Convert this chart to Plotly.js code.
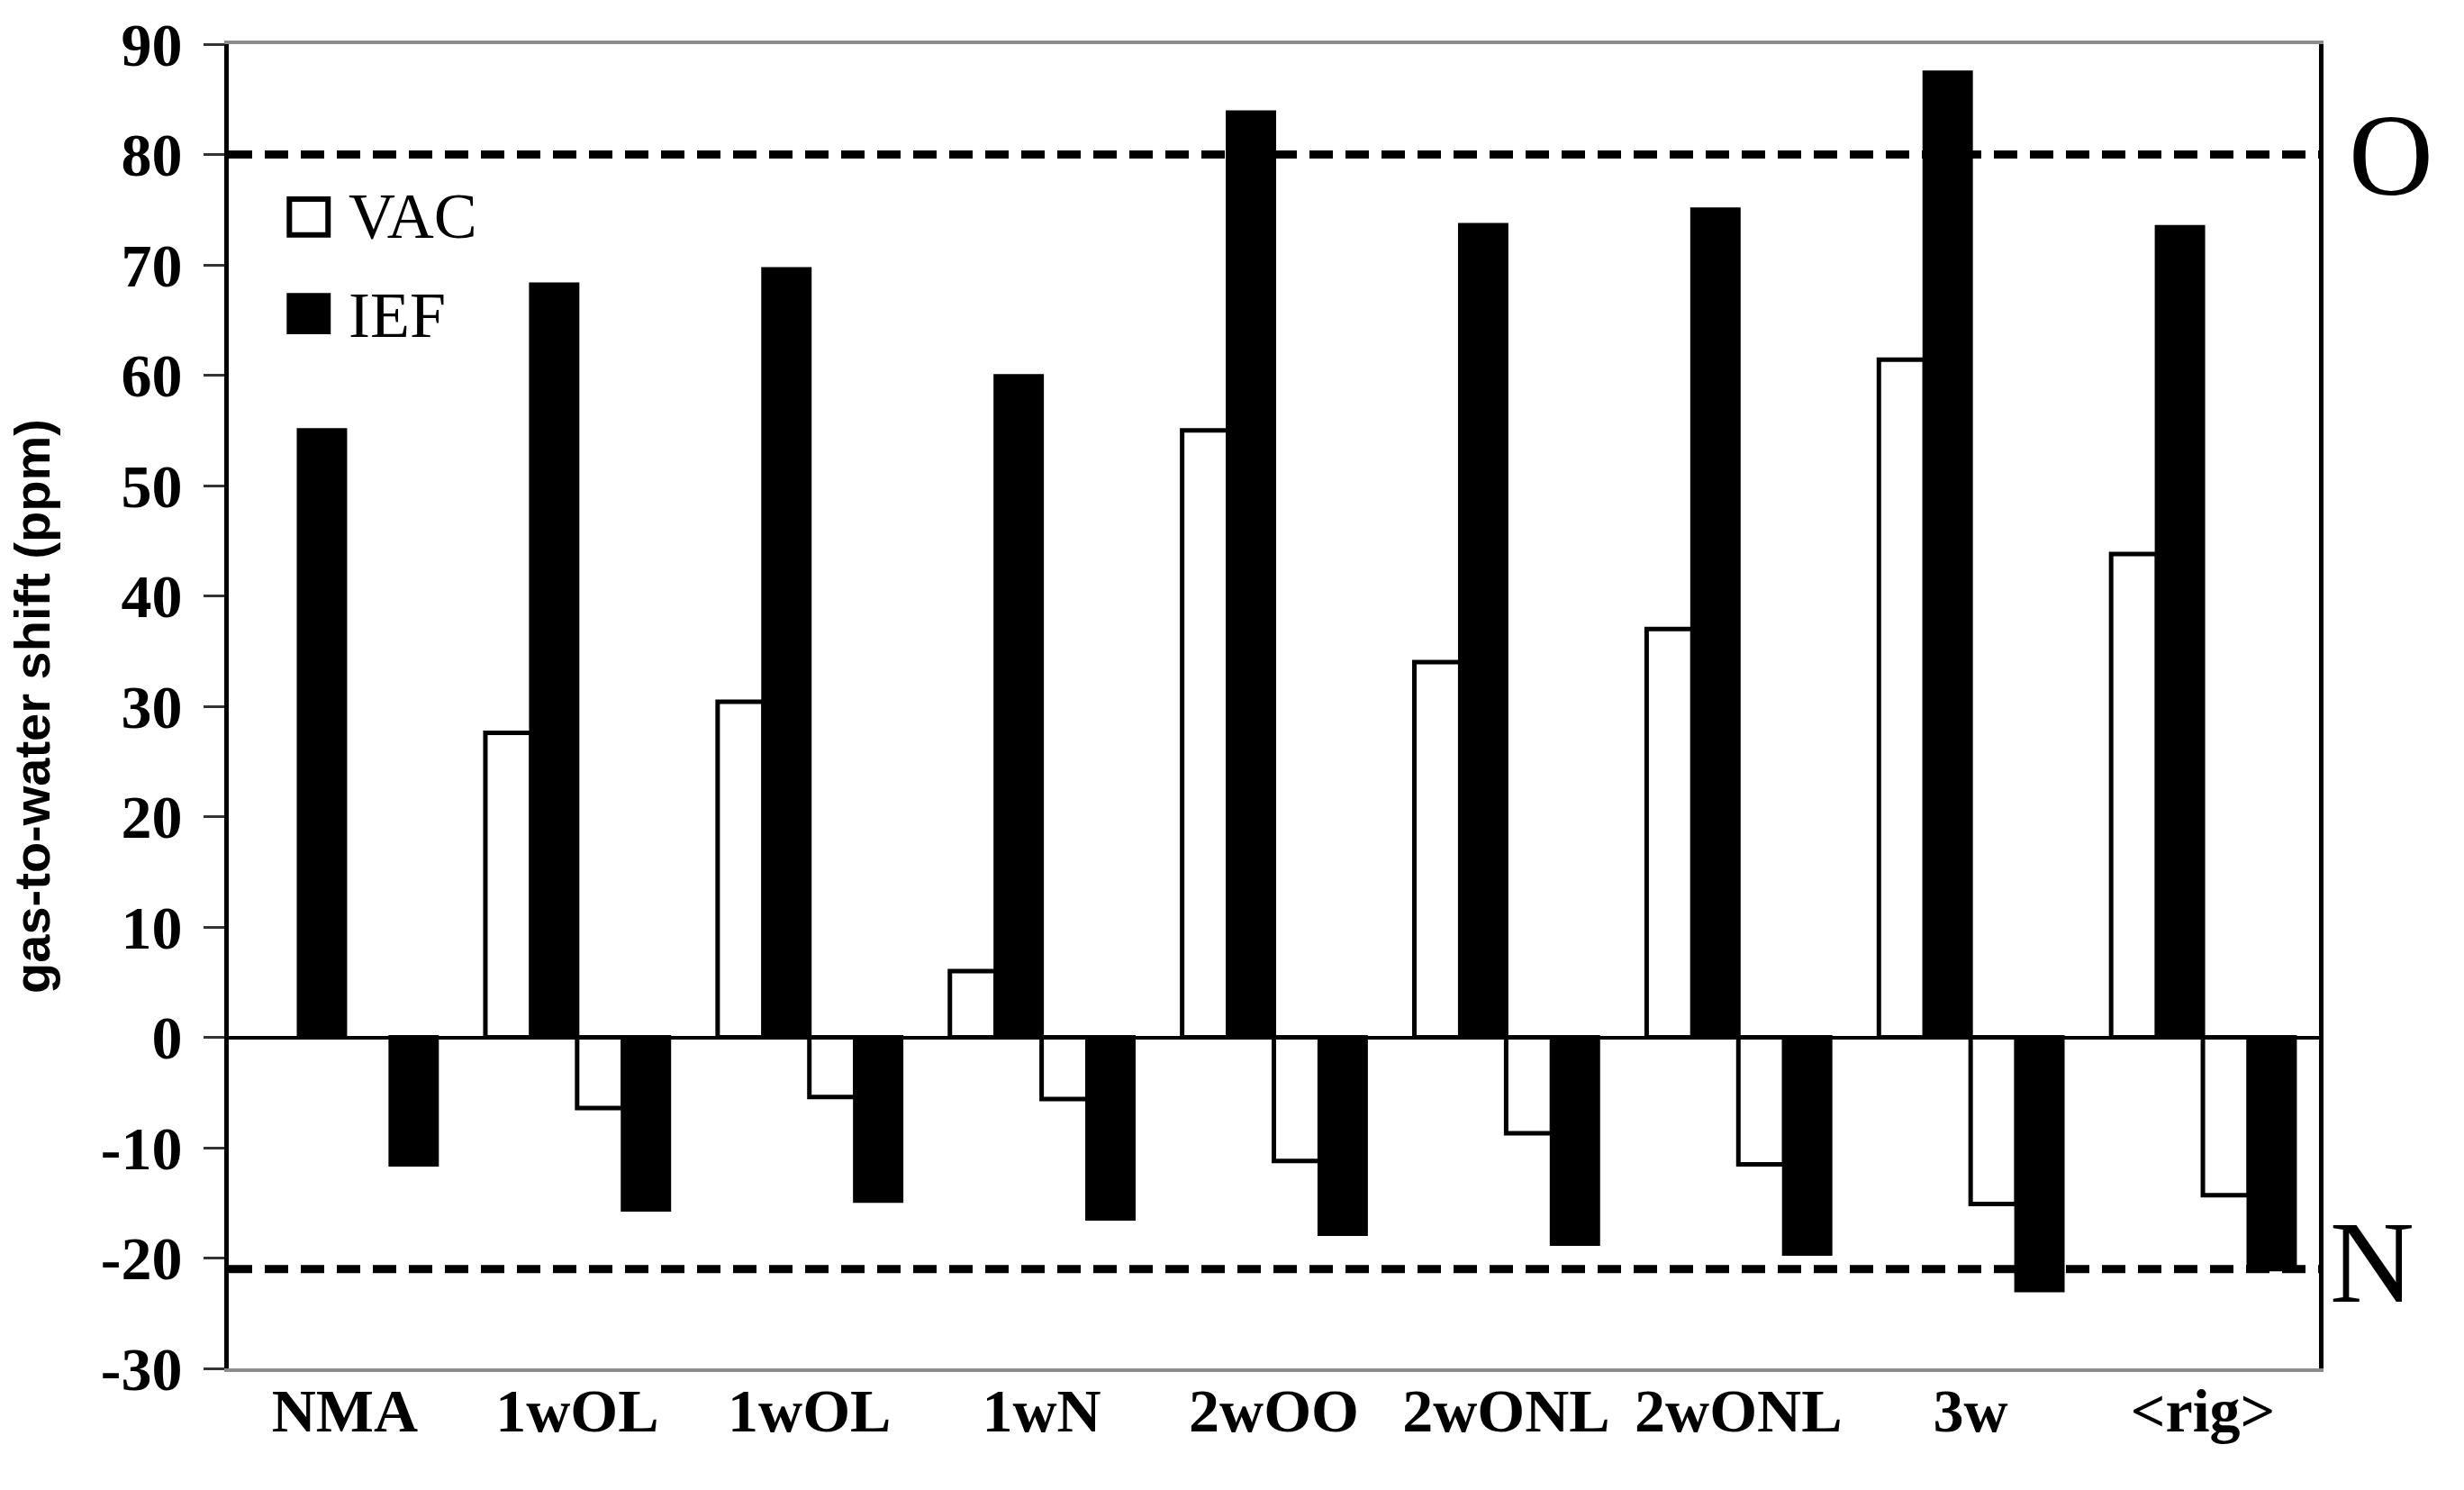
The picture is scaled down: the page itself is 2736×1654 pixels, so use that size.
<!DOCTYPE html>
<html>
<head>
<meta charset="utf-8">
<script src="https://cdn.plot.ly/plotly-3.0.1.min.js"></script>
<style>
  html, body { margin: 0; padding: 0; background: #fff; }
  #chart { width: 2736px; height: 1654px; }
</style>
</head>
<body>
<div id="chart"></div>
<script>
// complexes along the x axis (two of them appear twice)
var categories = ['NMA', '1wOL', '1wOL', '1wN', '2wOO', '2wONL', '2wONL', '3w', '<rig>'];

// gas-to-water shift (ppm), O site (positive) and N site (negative)
var vacO = [null, 27.6, 30.4, 6.0, 55.0, 34.0, 37.0, 61.4, 43.8];
var iefO = [55.0, 68.2, 69.6, 59.9, 83.8, 73.6, 75.0, 87.4, 73.4];
var vacN = [null, -6.4, -5.4, -5.6, -11.2, -8.7, -11.5, -15.1, -14.3];
var iefN = [-11.5, -15.6, -14.8, -16.4, -17.8, -18.7, -19.6, -22.9, -21.0];

// experimental reference shifts
var refO = 80;
var refN = -21;

var yTicks = [90, 80, 70, 60, 50, 40, 30, 20, 10, 0, -10, -20, -30];

var xpos = categories.map(function (c, i) { return i; });
var xtext = categories.map(function (c) { return c.replace(/</g, '&lt;').replace(/>/g, '&gt;'); });
// plain hyphen for negatives, like the original figure
var ytext = yTicks.map(function (v) { return String(v); });

var serif = 'Liberation Serif, Times New Roman, serif';

function barTrace(name, vals, fill) {
  return {
    type: 'bar',
    name: name,
    x: xpos,
    y: vals,
    marker: { color: fill, line: { color: '#000', width: 5 } },
    showlegend: false,
    hoverinfo: 'skip'
  };
}

var data = [
  barTrace('VAC', vacO, '#fff'),
  barTrace('IEF', iefO, '#000'),
  barTrace('VAC', vacN, '#fff'),
  barTrace('IEF', iefN, '#000')
];

var layout = {
  width: 2736,
  height: 1654,
  margin: { l: 254, r: 161, t: 49, b: 135 },
  paper_bgcolor: '#fff',
  plot_bgcolor: '#fff',
  barmode: 'group',
  bargap: 0.21,
  bargroupgap: 0,
  hovermode: false,
  xaxis: {
    range: [-0.5, 8.5],
    tickvals: xpos,
    ticktext: xtext,
    ticks: '',
    ticklabelstandoff: -16,
    tickfont: { family: serif, size: 68, color: '#000', weight: 'bold' },
    showgrid: false,
    zeroline: false,
    showline: true,
    linecolor: '#8c8c8c',
    linewidth: 4,
    mirror: true
  },
  yaxis: {
    range: [-30, 90],
    tickvals: yTicks,
    ticktext: ytext,
    ticks: 'outside',
    ticklen: 23,
    tickwidth: 3,
    tickcolor: '#333',
    ticklabelstandoff: 10,
    tickfont: { family: serif, size: 68, color: '#000', weight: 'bold' },
    showgrid: false,
    zeroline: true,
    zerolinecolor: '#000',
    zerolinewidth: 4,
    showline: true,
    linecolor: '#000',
    linewidth: 5,
    mirror: true,
    title: {
      text: 'gas-to-water shift (ppm)',
      standoff: 40,
      font: { family: 'Liberation Sans, Arial, sans-serif', size: 56, color: '#000', weight: 'bold' }
    }
  },
  shapes: [
    { type: 'line', xref: 'paper', yref: 'y', x0: 0, x1: 1, y0: refO, y1: refO,
      line: { color: '#000', width: 9, dash: '26px,14px' }, layer: 'above' },
    { type: 'line', xref: 'paper', yref: 'y', x0: 0, x1: 1, y0: refN, y1: refN,
      line: { color: '#000', width: 9, dash: '26px,14px' }, layer: 'above' },
    // legend boxes
    { type: 'rect', xref: 'paper', yref: 'paper', x0: 0.029, x1: 0.0475, y0: 0.856, y1: 0.883,
      fillcolor: '#fff', line: { color: '#000', width: 6 } },
    { type: 'rect', xref: 'paper', yref: 'paper', x0: 0.029, x1: 0.0475, y0: 0.783, y1: 0.810,
      fillcolor: '#000', line: { color: '#000', width: 6 } }
  ],
  annotations: [
    { text: 'VAC', xref: 'paper', yref: 'paper', x: 0.0564, y: 0.8701, xanchor: 'left', yanchor: 'middle',
      showarrow: false, font: { family: serif, size: 72, color: '#000' } },
    { text: 'IEF', xref: 'paper', yref: 'paper', x: 0.0564, y: 0.7952, xanchor: 'left', yanchor: 'middle',
      showarrow: false, font: { family: serif, size: 72, color: '#000' } },
    { text: 'O', xref: 'paper', yref: 'y', x: 1.0134, y: refO, xanchor: 'left', yanchor: 'middle',
      showarrow: false, font: { family: serif, size: 130, color: '#000' } },
    { text: 'N', xref: 'paper', yref: 'y', x: 1.0043, y: refN, xanchor: 'left', yanchor: 'middle', yshift: 8,
      showarrow: false, font: { family: serif, size: 130, color: '#000' } }
  ]
};

Plotly.newPlot('chart', data, layout, { displayModeBar: false, staticPlot: true });
</script>
</body>
</html>
